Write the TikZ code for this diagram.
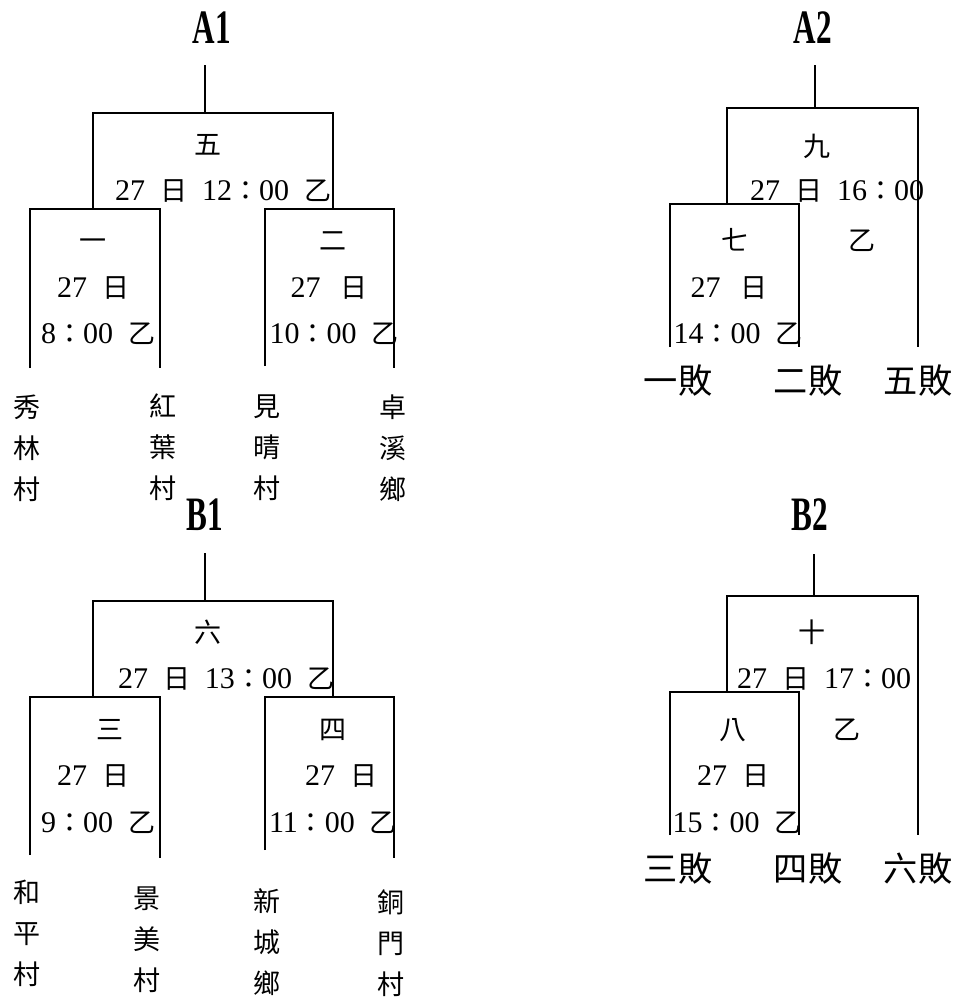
\documentclass[tikz,border=0pt]{standalone}
\usepackage{fontspec}
\setmainfont{Liberation Serif}[WordSpace=2]
\newfontfamily\cjk{Noto Sans CJK TC}[Scale=0.9]
\newfontfamily\titlefont{Liberation Serif}[FakeStretch=0.65]
\newcommand{\zh}[1]{{\cjk #1}}

\begin{document}
\begin{tikzpicture}[
		x=0.5pt, y=-0.5pt,
		every node/.style={inner sep=0pt, font=\fontsize{15}{18}\selectfont},
		txt/.style={anchor=base},
		title/.style={anchor=base, font=\titlefont\bfseries\fontsize{24}{28}\selectfont},
		team/.style={align=center, font=\cjk\fontsize{15}{20.5}\selectfont},
		loser/.style={anchor=base, font=\cjk\fontsize{19}{22}\selectfont},
		bracket/.style={draw, line width=1pt}
	]
	\useasboundingbox (0,0) rectangle (959,1001);

	% A1
	\node[title] (A1) at (212,43) {A1};
	\coordinate (A1s) at (205,65);
	\coordinate (j5) at (205,113);
	\coordinate (j1) at (93,209);
	\coordinate (j2) at (333,209);
	\coordinate (t1) at (30,368);
	\coordinate (t2) at (160,368);
	\coordinate (t3) at (265,366);
	\coordinate (t4) at (394,368);
	\draw[bracket] (A1s) -- (j5);
	\draw[bracket] (j1) |- (j5) -| (j2);
	\draw[bracket] (t1) |- (j1) -| (t2);
	\draw[bracket] (t3) |- (j2) -| (t4);
	\node[txt] (g5) at (208,154) {\zh{五}};
	\node[txt] (g5t) at (223,200) {27 \zh{日} 12\zh{：}00 \zh{乙}};
	\node[txt] (g1) at (93,250) {\zh{一}};
	\node[txt] (g1d) at (93,297) {27 \zh{日}};
	\node[txt] (g1t) at (98,343) {8\zh{：}00 \zh{乙}};
	\node[txt] (g2) at (333,250) {\zh{二}};
	\node[txt] (g2d) at (329,297) {27 \,\zh{日}};
	\node[txt] (g2t) at (334,343) {10\zh{：}00 \zh{乙}};
	\node[team] (n1) at (27,448) {秀\\林\\村};
	\node[team] (n2) at (163,447) {紅\\葉\\村};
	\node[team] (n3) at (267,448) {見\\晴\\村};
	\node[team] (n4) at (393,448) {卓\\溪\\鄉};

	% A2
	\node[title] (A2) at (813,43) {A2};
	\coordinate (A2s) at (815,65);
	\coordinate (j9) at (815,108);
	\coordinate (j7) at (727,204);
	\coordinate (l1) at (670,347);
	\coordinate (l2) at (799,347);
	\coordinate (l5) at (918,347);
	\draw[bracket] (A2s) -- (j9);
	\draw[bracket] (j7) |- (j9) -| (l5);
	\draw[bracket] (l1) |- (j7) -| (l2);
	\node[txt] (g9) at (817,156) {\zh{九}};
	\node[txt] (g9t) at (837,200) {27 \zh{日} 16\zh{：}00};
	\node[txt] (g9b) at (862,250) {\zh{乙}};
	\node[txt] (g7) at (735,250) {\zh{七}};
	\node[txt] (g7d) at (729,297) {27 \,\zh{日}};
	\node[txt] (g7t) at (738,343) {14\zh{：}00 \zh{乙}};
	\node[loser] (x1) at (678,393) {一敗};
	\node[loser] (x2) at (808,393) {二敗};
	\node[loser] (x5) at (918,393) {五敗};

	% B1
	\node[title] (B1) at (205,530) {B1};
	\coordinate (B1s) at (205,553);
	\coordinate (j6) at (205,601);
	\coordinate (j3) at (93,697);
	\coordinate (j4) at (333,697);
	\coordinate (t5) at (30,855);
	\coordinate (t6) at (160,858);
	\coordinate (t7) at (265,850);
	\coordinate (t8) at (394,858);
	\draw[bracket] (B1s) -- (j6);
	\draw[bracket] (j3) |- (j6) -| (j4);
	\draw[bracket] (t5) |- (j3) -| (t6);
	\draw[bracket] (t7) |- (j4) -| (t8);
	\node[txt] (g6) at (208,642) {\zh{六}};
	\node[txt] (g6t) at (226,688) {27 \zh{日} 13\zh{：}00 \zh{乙}};
	\node[txt] (g3) at (110,739) {\zh{三}};
	\node[txt] (g3d) at (93,785) {27 \zh{日}};
	\node[txt] (g3t) at (98,832) {9\zh{：}00 \zh{乙}};
	\node[txt] (g4) at (333,739) {\zh{四}};
	\node[txt] (g4d) at (341,785) {27 \zh{日}};
	\node[txt] (g4t) at (333,832) {11\zh{：}00 \zh{乙}};
	\node[team] (n5) at (27,933) {和\\平\\村};
	\node[team] (n6) at (147,940) {景\\美\\村};
	\node[team] (n7) at (267,942) {新\\城\\鄉};
	\node[team] (n8) at (391,943) {銅\\門\\村};

	% B2
	\node[title] (B2) at (810,530) {B2};
	\coordinate (B2s) at (814,554);
	\coordinate (j10) at (814,596);
	\coordinate (j8) at (727,692);
	\coordinate (l3) at (670,835);
	\coordinate (l4) at (799,835);
	\coordinate (l6) at (918,835);
	\draw[bracket] (B2s) -- (j10);
	\draw[bracket] (j8) |- (j10) -| (l6);
	\draw[bracket] (l3) |- (j8) -| (l4);
	\node[txt] (g10) at (812,642) {\zh{十}};
	\node[txt] (g10t) at (824,688) {27 \zh{日} 17\zh{：}00};
	\node[txt] (g10b) at (847,739) {\zh{乙}};
	\node[txt] (g8) at (733,739) {\zh{八}};
	\node[txt] (g8d) at (733,785) {27 \zh{日}};
	\node[txt] (g8t) at (737,832) {15\zh{：}00 \zh{乙}};
	\node[loser] (x3) at (678,881) {三敗};
	\node[loser] (x4) at (808,881) {四敗};
	\node[loser] (x6) at (918,881) {六敗};
\end{tikzpicture}
\end{document}
